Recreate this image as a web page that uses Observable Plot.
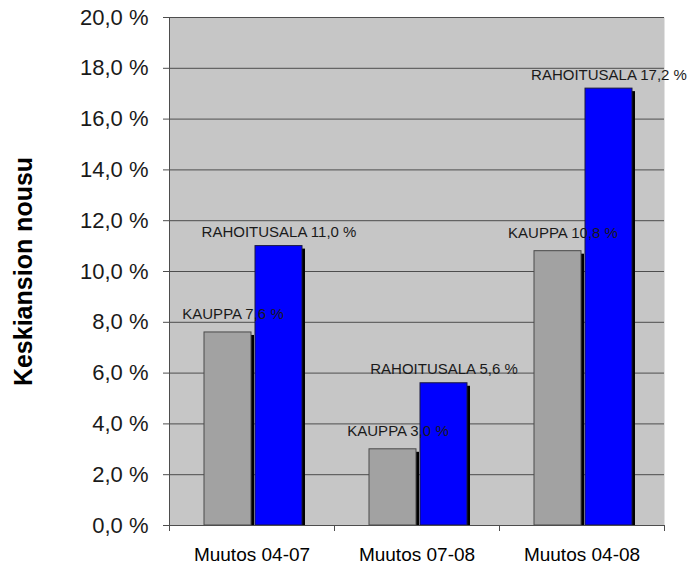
<!DOCTYPE html>
<html><head><meta charset="utf-8">
<script src="https://cdn.jsdelivr.net/npm/d3@7"></script>
<script src="https://cdn.jsdelivr.net/npm/@observablehq/plot@0.6"></script>
<style>html,body{margin:0;padding:0;background:#fff;} #chart svg{display:block;}</style>
</head><body><div id="chart"></div>
<script>
const categories = ["Muutos 04-07", "Muutos 07-08", "Muutos 04-08"];
const seriesNames = ["KAUPPA", "RAHOITUSALA"];
const kauppa = [7.6, 3.0, 10.8];
const rahoitusala = [11.0, 5.6, 17.2];
const yTicks = [0, 2, 4, 6, 8, 10, 12, 14, 16, 18, 20];
const yLabel = "Keskiansion nousu";

const W = 687, H = 566, mL = 169, mR = 23, mT = 17, mB = 41;
const bw = (W - mL - mR) / categories.length;
const grayL = 35, grayW = 47, blueL = 86, blueW = 47;

const fmt = v => v.toFixed(1).replace(".", ",") + " %";
const kData = categories.map((c, i) => ({cat: c, value: kauppa[i], label: `${seriesNames[0]} ${fmt(kauppa[i])}`}));
const rData = categories.map((c, i) => ({cat: c, value: rahoitusala[i], label: `${seriesNames[1]} ${fmt(rahoitusala[i])}`}));

const grayOpt = {x: "cat", y: "value", insetLeft: grayL, insetRight: bw - grayL - grayW};
const blueOpt = {x: "cat", y: "value", insetLeft: blueL, insetRight: bw - blueL - blueW};

const chart = Plot.plot({
  width: W, height: H,
  marginLeft: mL, marginRight: mR, marginTop: mT, marginBottom: mB,
  style: {fontFamily: "Arial, 'Liberation Sans', sans-serif", color: "#1a1a1a", background: "#fff"},
  x: {type: "band", domain: categories, paddingInner: 0, paddingOuter: 0},
  y: {domain: [0, 20]},
  marks: [
    Plot.frame({fill: "#c6c6c6", stroke: "none"}),
    Plot.ruleY(yTicks, {stroke: "#4d4d4d", strokeWidth: 1}),
    // shadows
    Plot.barY(kData, {...grayOpt, fill: "#000", dx: 3, dy: 3, insetBottom: 3}),
    Plot.barY(rData, {...blueOpt, fill: "#000", dx: 3, dy: 3, insetBottom: 3}),
    // bars
    Plot.barY(kData, {...grayOpt, fill: "#a2a2a2", stroke: "#4a4a4a", strokeWidth: 1}),
    Plot.barY(rData, {...blueOpt, fill: "#0000ff", stroke: "#1a1a40", strokeWidth: 1}),
    // axis lines and boundary ticks
    Plot.ruleY([0], {stroke: "#4d4d4d"}),
    Plot.ruleX([categories[0]], {dx: -bw / 2, y1: 20, y2: 0, insetBottom: -6, stroke: "#4d4d4d"}),
    Plot.ruleX(categories.slice(1), {x: d => d, dx: -bw / 2, y1: 0, y2: 0, insetBottom: -6, stroke: "#4d4d4d"}),
    Plot.ruleX(categories.slice(-1), {x: d => d, dx: bw / 2, y1: 0, y2: 0, insetBottom: -6, stroke: "#4d4d4d"}),
    Plot.axisY({ticks: yTicks, tickFormat: fmt, tickSize: 6, tickPadding: 15, fontSize: 22, label: null, stroke: "#4d4d4d", fill: "#1a1a1a"}),
    Plot.axisX({tickSize: 0, tickPadding: 22, fontSize: 19, label: null, fill: "#000"}),
    // value labels
    Plot.text(kData, {x: "cat", y: "value", text: "label", dx: -bw / 2 + grayL + grayW / 2 + 5, dy: -13, lineAnchor: "bottom", fontSize: 15, fill: "#1a1a1a"}),
    Plot.text(rData, {x: "cat", y: "value", text: "label", dx: -bw / 2 + blueL + blueW / 2, dy: -9, lineAnchor: "bottom", fontSize: 15, fill: "#1a1a1a"}),
    // y title
    Plot.text([yLabel], {text: d => d, frameAnchor: "left", textAnchor: "middle", rotate: -90, dx: -146, fontSize: 25, fontWeight: "bold", fill: "#000"})
  ]
});
document.getElementById("chart").appendChild(chart);
</script>
</body></html>
